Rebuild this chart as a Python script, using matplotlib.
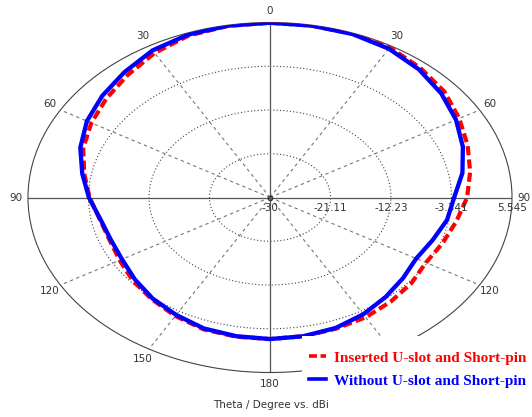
import matplotlib.pyplot as plt
import numpy as np
from matplotlib.lines import Line2D
from matplotlib.patches import Rectangle
from matplotlib.transforms import offset_copy

# pattern, theta in degrees clockwise from top
angles = np.arange(0, 360, 10)
inserted = [5.5, 5.45, 5.4, 5.2, 4.35, 3.45, 2.1, 0.9, -0.15, -1.05,
            -2.2, -3.0, -3.55, -2.9, -2.4, -1.9, -1.65, -1.4, -1.25,
            -1.3, -1.5, -2.2, -3.0, -3.7, -4.5, -4.9, -4.6, -3.5, -2.3,
            -0.8, 0.3, 1.35, 2.5, 3.9, 5.0, 5.4]
without = [5.5, 5.45, 5.35, 4.9, 4.0, 2.85, 1.55, 0.15, -1.3, -2.95,
           -3.6, -4.6, -5.2, -4.5, -3.6, -2.6, -1.8, -1.4, -1.25,
           -1.4, -1.68, -2.45, -3.2, -4.1, -4.9, -5.1, -4.7, -3.4, -2.0,
           -0.35, 1.05, 2.15, 3.25, 4.5, 5.2, 5.45]

r_min = -30
r_max = 5.545
rings = [-21.11, -12.23, -3.341]
ring_labels = ["-30", "-21.11", "-12.23", "-3.341", "5.545"]
theta_ticks = np.arange(0, 360, 30)
theta_labels = ["0", "30", "60", "90", "120", "150", "180",
                "150", "120", "90", "60", "30"]

fig = plt.figure(figsize=(5.32, 4.17), dpi=100)
ax = fig.add_axes([0.0526, 0.1067, 0.9098, 0.8393], projection="polar")
ax.set_aspect("auto")
ax.set_theta_zero_location("N")
ax.set_theta_direction(-1)
ax.set_ylim(r_min, r_max)
ax.grid(False)

full = np.linspace(0, 2 * np.pi, 361)
for r in rings:
    ax.plot(full, np.full_like(full, r), color="#444444", lw=0.8,
            ls=(0, (1, 2)), zorder=1)
for a in theta_ticks:
    t = np.deg2rad(a)
    if a % 90 == 0:
        ax.plot([t, t], [r_min, r_max], color="#555555", lw=0.9, zorder=1)
    else:
        ax.plot([t, t], [r_min, r_max], color="#777777", lw=0.8,
                ls=(0, (3, 3)), zorder=1)
ax.plot(0, r_min, "o", ms=3, mfc="none", mec="#333333", zorder=2)

th = np.deg2rad(np.append(angles, 360))
r_ins = np.append(inserted, inserted[0])
r_wo = np.append(without, without[0])
ax.plot(th, r_ins, color="#ff0000", lw=3.0, ls=(0, (2.2, 1.0)), zorder=3)
ax.plot(th, r_wo, color="#0000ff", lw=3.1, zorder=4)

ax.set_thetagrids(theta_ticks, theta_labels)
ax.tick_params(axis="x", pad=-2, labelsize=7.5, labelcolor="#333333")
ax.set_yticks([])
ax.spines["polar"].set_color("#444444")
ax.spines["polar"].set_linewidth(0.8)

below = offset_copy(ax.transData, fig=fig, x=0, y=-10, units="dots")
for r, lab in zip([r_min] + rings + [r_max], ring_labels):
    ax.text(np.pi / 2, r, lab, transform=below, ha="center", va="center",
            fontsize=7.5, color="#333333")

fig.text(0.509, 0.029, "Theta / Degree vs. dBi", ha="center", va="center",
         fontsize=7.5, color="#333333")

# white block behind the legend hides the lower right of the outer circle
fig.add_artist(Rectangle((0.5677, 0.06), 0.4323, 0.1342, transform=fig.transFigure,
                         facecolor="white", edgecolor="none", zorder=1))

handles = [Line2D([], [], color="#ff0000", lw=2.6, ls=(0, (2.2, 1.0))),
           Line2D([], [], color="#0000ff", lw=2.6)]
leg = fig.legend(handles, ["Inserted U-slot and Short-pin",
                           "Without U-slot and Short-pin"],
                 loc="upper left", bbox_to_anchor=(0.570, 0.1727),
                 frameon=False, handlelength=1.1,
                 handletextpad=0.5, labelspacing=0.61, borderpad=0.4,
                 borderaxespad=0, labelcolor="linecolor",
                 prop={"family": "Liberation Serif", "weight": "bold",
                       "size": 11})

fig.savefig("out.png", dpi=100)
